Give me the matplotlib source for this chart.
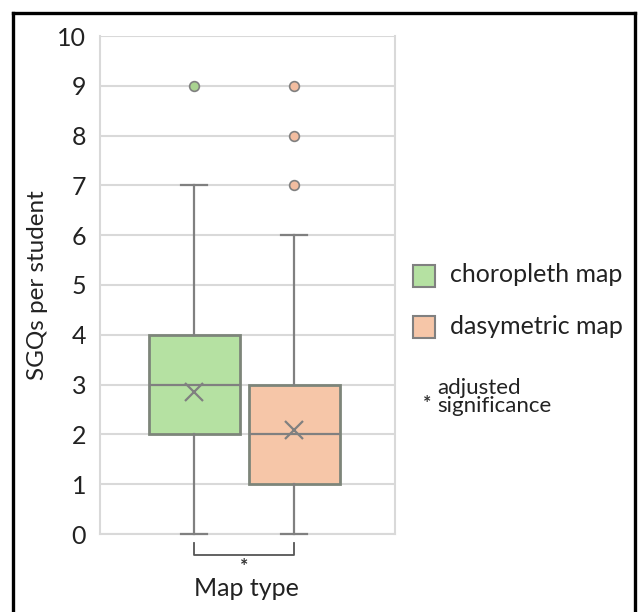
import matplotlib.pyplot as plt
from matplotlib.lines import Line2D
from matplotlib.patches import Rectangle

# valores
grupos = ["choropleth map", "dasymetric map"]
q1 = [2, 1]
mediana = [3, 2]
q3 = [4, 3]
bigote_bajo = [0, 0]
bigote_alto = [7, 6]
media = [2.86, 2.09]
atipicos = [[9], [7, 8, 9]]
yticks = list(range(0, 11))

relleno = ["#b5e1a2", "#f6c6a8"]
punto = ["#a9d390", "#f2bda0"]
gris = "#808080"

plt.rcParams['font.family'] = ['Lato', 'DejaVu Sans']

W, H = 638, 612
fig = plt.figure(figsize=(W / 100, H / 100), dpi=100)


def px(x, y):
    return x / W, 1 - y / H


ax = fig.add_axes([100 / W, 1 - 534 / H, 295 / W, 498 / H])

stats = []
for i in range(len(grupos)):
    stats.append(dict(med=mediana[i], q1=q1[i], q3=q3[i], whislo=bigote_bajo[i],
                      whishi=bigote_alto[i], mean=media[i], fliers=atipicos[i]))

pos = [0.94, 1.94]
bp = ax.bxp(stats, positions=pos, widths=0.91, showmeans=True, patch_artist=True,
            capwidths=0.26, zorder=3)
for i, caja in enumerate(bp['boxes']):
    caja.set_facecolor(relleno[i])
    caja.set_edgecolor("#7d857a")
    caja.set_linewidth(2)
for l in bp['whiskers'] + bp['caps'] + bp['medians']:
    l.set_color(gris)
    l.set_linewidth(1.6)
    l.set_clip_on(False)
for m in bp['means']:
    m.set_marker('x')
    m.set_markersize(13)
    m.set_markeredgecolor(gris)
    m.set_markeredgewidth(1.6)
for i, f in enumerate(bp['fliers']):
    f.set_marker('o')
    f.set_markersize(7)
    f.set_markerfacecolor(punto[i])
    f.set_markeredgecolor(gris)
    f.set_markeredgewidth(1.2)

ax.set_xlim(0, 2.95)
ax.set_ylim(0, 10)
ax.set_yticks(yticks)
ax.set_xticks([])
ax.tick_params(axis='y', length=0, labelsize=18, pad=10, colors="#222222")
ax.grid(axis='y', color="#d9d9d9", linewidth=1.5, zorder=0)
ax.set_axisbelow(True)
for s in ['left', 'right', 'bottom']:
    ax.spines[s].set_color("#d9d9d9")
    ax.spines[s].set_linewidth(1.5)
ax.spines['top'].set_visible(False)
ax.set_ylabel("SGQs per student", fontsize=17.5, color="#222222")
ax.yaxis.set_label_coords(-0.175, 0.5)

# corchete de significancia
ax.plot([pos[0], pos[0], pos[1], pos[1]], [-0.18, -0.42, -0.42, -0.18],
        color="#555555", linewidth=1.3, clip_on=False)
ax.text(sum(pos) / 2, -0.66, "*", ha='center', va='center', fontsize=14,
        fontweight='bold', color="#333333")
fig.text(*px(246, 588), "Map type", ha='center', va='center', fontsize=18, color="#222222")

# leyenda manual
for i, yy in enumerate([265, 316]):
    x0, y0 = px(413, yy + 22)
    fig.patches.append(Rectangle((x0, y0), 22 / W, 22 / H, transform=fig.transFigure,
                                 facecolor=relleno[i], edgecolor=gris, linewidth=1.5))
    fig.text(*px(450, yy + 10), grupos[i], ha='left', va='center', fontsize=18,
             color="#222222")
fig.text(*px(427, 404), "*", ha='center', va='center', fontsize=14, fontweight='bold',
         color="#333333")
fig.text(*px(437, 397), "adjusted\nsignificance", ha='left', va='center', fontsize=16,
         linespacing=0.9, color="#222222")

# marco negro
for xs, ys in [([13, 13], [13, 640]), ([13, 635], [13, 13]), ([635, 635], [13, 640])]:
    fig.add_artist(Line2D([x / W for x in xs], [1 - y / H for y in ys],
                          transform=fig.transFigure, color="black", linewidth=2.4))

fig.savefig("out.png", dpi=100)
